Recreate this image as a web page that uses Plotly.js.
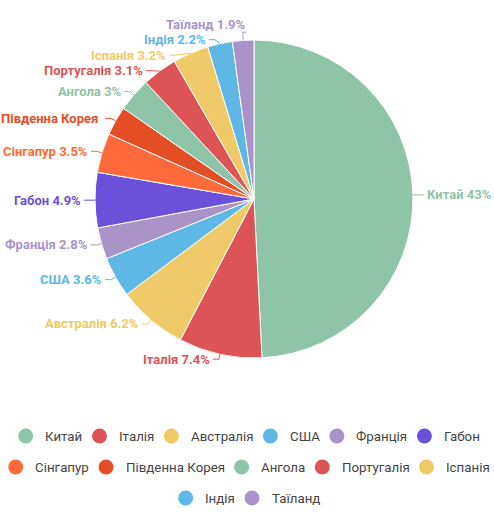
<!DOCTYPE html>
<html>
<head>
<meta charset="utf-8">
<script src="https://cdn.plot.ly/plotly-3.0.1.min.js"></script>
<style>
html,body{margin:0;padding:0;background:#fff;}
#chart{width:494px;height:513px;}
</style>
</head>
<body>
<div id="chart"></div>
<script>
// ---- data ----
const countries = ['Китай','Італія','Австралія','США','Франція','Габон','Сінгапур','Південна Корея','Ангола','Португалія','Іспанія','Індія','Таїланд'];
const shares = [43, 7.4, 6.2, 3.6, 2.8, 4.9, 3.5, 2.6, 3, 3.1, 3.2, 2.2, 1.9];
const shareLabels = ['43%','7.4%','6.2%','3.6%','2.8%','4.9%','3.5%','2.6%','3%','3.1%','3.2%','2.2%','1.9%'];
const colors = ['#8EC4A7','#DD5456','#F0CA69','#5EB7E5','#AA93C9','#6B51D9','#FF6A3B','#E44E27','#8EC4A7','#DD5456','#F0CA69','#5EB7E5','#AA93C9'];

// ---- layout constants ----
const W = 494, H = 513;
const CX = 254, CY = 199, RAD = 159;
const LEN = 5, LEN2 = 6, GAP = 15.5, TOP = 9, LEFTMIN = 2;
const R1 = RAD + LEN;
const px = x => x / W;
const py = y => 1 - y / H;

const canvas = document.createElement('canvas');
const ctx = canvas.getContext('2d');
function textW(t, font){ ctx.font = font; return ctx.measureText(t).width; }

// ---- label placement computed from the data ----
const total = shares.reduce((a,b)=>a+b,0);
let cum = 0;
const items = shares.map((v,i)=>{
  const a0 = cum/total*2*Math.PI; cum += v; const a1 = cum/total*2*Math.PI;
  const m = (a0+a1)/2;
  const s = Math.sin(m), c = Math.cos(m);
  return {i, s, c, dir: s >= 0 ? 1 : -1, y0: CY - R1*c};
});

function relax(list){
  list.sort((a,b)=>a.y0-b.y0);
  const clusters = [];
  const place = cl => {
    const n = cl.length;
    const mean = cl.reduce((a,t)=>a+t.y0,0)/n;
    let start = mean-(n-1)/2*GAP;
    if (start < TOP) start = TOP;
    cl.forEach((t,k)=>t.y = start+k*GAP);
  };
  for (const it of list){
    clusters.push([it]); place(clusters[clusters.length-1]);
    while (clusters.length > 1){
      const last = clusters[clusters.length-1], prev = clusters[clusters.length-2];
      if (last[0].y < prev[prev.length-1].y + GAP){
        clusters.pop(); clusters.pop();
        const merged = prev.concat(last); place(merged); clusters.push(merged);
      } else break;
    }
  }
}
relax(items.filter(t=>t.dir<0));
relax(items.filter(t=>t.dir>0));

const LABEL_SIZE = 13;
const LABEL_FONT = 'bold ' + LABEL_SIZE + 'px Roboto';
const annotations = [];
const shapes = [];
items.forEach(it=>{
  const dy = it.y - CY;
  const ex = Math.sqrt(Math.max(0, R1*R1 - dy*dy));        // label-line bend on the outer circle
  const textEdge = CX + it.dir*(ex + LEN2);
  let txt = countries[it.i] + ' ' + shareLabels[it.i];
  if (it.dir < 0){
    while (txt.length > 1 && textEdge - textW(txt, LABEL_FONT) - 2 < LEFTMIN) txt = txt.slice(0,-1);
  }
  const p0x = CX + RAD*it.s, p0y = CY - RAD*it.c;
  const natX = CX + R1*it.s;
  let path;
  if ((textEdge - natX)*it.dir >= 2){
    const p1x = it.dir < 0 ? Math.max(natX, CX - ex) : Math.min(natX, CX + ex);
    path = `M${px(p0x)},${py(p0y)} L${px(CX + it.dir*ex)},${py(it.y)} L${px(textEdge)},${py(it.y)}`;
  } else {
    // label sits above/below the slice: rise vertically then run under the text end
    const yy = it.y + (dy < 0 ? 8 : -8);
    path = `M${px(p0x)},${py(p0y)} L${px(natX)},${py(yy)} L${px(textEdge + it.dir*2)},${py(yy)}`;
  }
  shapes.push({type:'path', xref:'paper', yref:'paper', path, line:{color:colors[it.i], width:1}});
  annotations.push({xref:'paper', yref:'paper', x:px(textEdge + it.dir*1), y:py(it.y),
    xanchor: it.dir<0 ? 'right':'left', yanchor:'middle', showarrow:false, text:txt,
    font:{family:'Roboto, sans-serif', size:LABEL_SIZE, weight:'bold', color:colors[it.i]}});
});

// ---- custom centred legend ----
const LEG_FONT_SIZE = 13.3;
const LEG_FONT = LEG_FONT_SIZE + 'px Roboto';
const DOT = 15, DOT_GAP = 11, ITEM_GAP = 10.5, MAXW = 482, LEG_CX = 248.5, ROW0 = 436, ROWH = 31;
const rows = [[]]; let rowW = 0;
countries.forEach((name,i)=>{
  const w = DOT + DOT_GAP + textW(name, LEG_FONT);
  const add = (rows[rows.length-1].length ? ITEM_GAP : 0) + w;
  if (rows[rows.length-1].length && rowW + add > MAXW){ rows.push([]); rowW = 0; }
  const r = rows[rows.length-1];
  rowW += (r.length ? ITEM_GAP : 0) + w;
  r.push({i, w});
  r.width = rowW;
});
rows.forEach((r,ri)=>{
  let x = LEG_CX - r.width/2;
  const y = ROW0 + ri*ROWH;
  r.forEach(e=>{
    shapes.push({type:'circle', xref:'paper', yref:'paper', x0:px(x), x1:px(x+DOT), y0:py(y+DOT/2), y1:py(y-DOT/2),
      fillcolor:colors[e.i], line:{width:0}});
    annotations.push({xref:'paper', yref:'paper', x:px(x+DOT+DOT_GAP-1), y:py(y), xanchor:'left', yanchor:'middle',
      showarrow:false, text:countries[e.i], font:{family:'Roboto, sans-serif', size:LEG_FONT_SIZE, color:'#444'}});
    x += e.w + ITEM_GAP;
  });
});

const trace = {
  type:'pie', labels:countries, values:shares, sort:false, direction:'clockwise', rotation:0,
  marker:{colors:colors, line:{color:'#ffffff', width:1}},
  textinfo:'none', hoverinfo:'label+percent', showlegend:false,
  domain:{x:[px(CX-RAD), px(CX+RAD)], y:[py(CY+RAD), py(CY-RAD)]}
};
const layout = {
  width:W, height:H, margin:{l:0,r:0,t:0,b:0},
  paper_bgcolor:'#ffffff', plot_bgcolor:'#ffffff', showlegend:false,
  font:{family:'Roboto, sans-serif'},
  annotations, shapes
};
Plotly.newPlot('chart', [trace], layout, {displayModeBar:false, staticPlot:true});
</script>
</body>
</html>
